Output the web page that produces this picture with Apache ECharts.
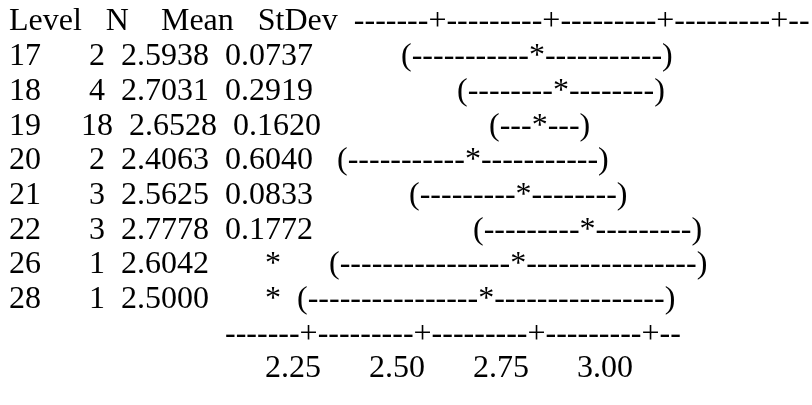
<!DOCTYPE html>
<html>
<head>
<meta charset="utf-8">
<script src="https://cdn.jsdelivr.net/npm/echarts@6/dist/echarts.min.js"></script>
<style>
  html, body { margin: 0; padding: 0; background: #ffffff; }
  #chart { width: 812px; height: 405px; }
</style>
</head>
<body>
<div id="chart"></div>
<script>
// ---- data (read from the Minitab one-way ANOVA listing) ----
const headers = ['Level', 'N', 'Mean', 'StDev'];
const levels = ['17', '18', '19', '20', '21', '22', '26', '28'];
const nValues = [2, 4, 18, 2, 3, 3, 1, 1];
const means = [2.5938, 2.7031, 2.6528, 2.4063, 2.5625, 2.7778, 2.6042, 2.5000];
const stdevs = ['0.0737', '0.2919', '0.1620', '0.6040', '0.0833', '0.1772', '*', '*'];
const ciLeftDashes = [11, 8, 3, 11, 9, 9, 16, 16];
const ciRightDashes = [11, 8, 3, 11, 8, 9, 16, 16];
const tickValues = [2.25, 2.50, 2.75, 3.00];
const tickLabels = ['2.25', '2.50', '2.75', '3.00'];

// ---- character-column scale of the text plot ----
const colsPerTick = 10;
const firstTickCol = 35;                      // column of the first '+'
const unitsPerCol = (tickValues[1] - tickValues[0]) / colsPerTick;
const prefixCols = 25;

function starCol(m) {
  return firstTickCol + Math.round((m - tickValues[0]) / unitsPerCol);
}
const axisLine = '-'.repeat(7) + tickLabels.map(() => '+').join('-'.repeat(colsPerTick - 1)) + '--';

const lines = [];
lines.push(headers[0].padEnd(5) + headers[1].padStart(4) + headers[2].padStart(8) + headers[3].padStart(8) + '  ' + axisLine);
levels.forEach((lv, i) => {
  const prefix = lv.padEnd(5) + String(nValues[i]).padStart(4) + means[i].toFixed(4).padStart(8) + stdevs[i].padStart(8);
  const openCol = starCol(means[i]) - ciLeftDashes[i] - 1;
  const lead = openCol - prefixCols - 1;
  lines.push(prefix + ' '.repeat(lead) + '(' + '-'.repeat(ciLeftDashes[i]) + '*' + '-'.repeat(ciRightDashes[i]) + ')');
});
lines.push(' '.repeat(27) + axisLine);
lines.push(' '.repeat(32) + tickLabels.join(' '.repeat(colsPerTick - 4)));

const chart = echarts.init(document.getElementById('chart'), null, { renderer: 'canvas' });
chart.setOption({
  backgroundColor: '#ffffff',
  animation: false,
  grid: { left: 9, right: 0, top: 22, bottom: 36 },
  xAxis: { type: 'value', min: 0, max: 1, show: false },
  yAxis: { type: 'value', min: 0, max: lines.length - 1, inverse: true, show: false },
  series: [{
    type: 'custom',
    coordinateSystem: 'cartesian2d',
    data: lines.map((t, i) => [0, i]),
    renderItem: function (params, api) {
      const p = api.coord([api.value(0), api.value(1)]);
      return {
        type: 'text',
        x: p[0],
        y: p[1],
        style: {
          text: lines[params.dataIndex],
          font: '32px "Liberation Serif", "Times New Roman", serif',
          fill: '#000000',
          verticalAlign: 'middle',
          align: 'left'
        }
      };
    }
  }]
});
</script>
</body>
</html>
